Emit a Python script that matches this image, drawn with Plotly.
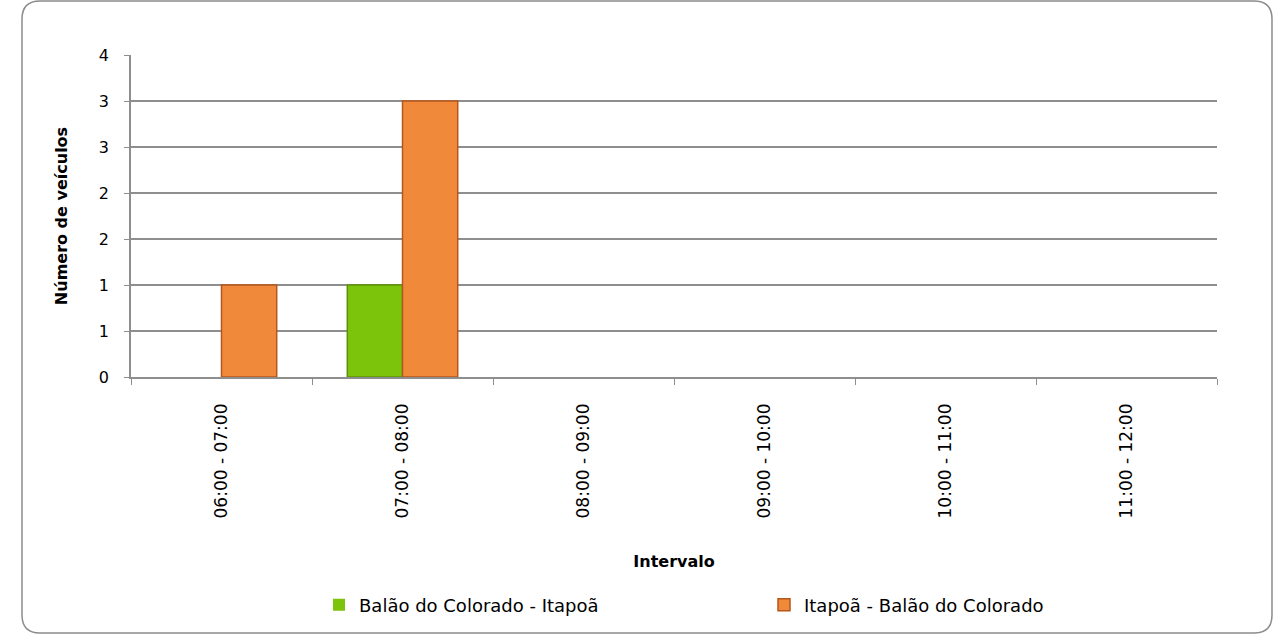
import plotly.graph_objects as go

categories = ["06:00 - 07:00", "07:00 - 08:00", "08:00 - 09:00",
              "09:00 - 10:00", "10:00 - 11:00", "11:00 - 12:00"]
balao_itapoa = [0, 1, 0, 0, 0, 0]
itapoa_balao = [1, 3, 0, 0, 0, 0]
y_tickvals = [0, 0.5, 1, 1.5, 2, 2.5, 3, 3.5]
y_ticktext = ["0", "1", "1", "2", "2", "3", "3", "4"]

W, H = 1275, 636
L, R, T, B = 131, 1217, 55, 377
FONT = "'DejaVu Sans', Lato, sans-serif"
GRID = "#8E8E8E"

fig = go.Figure()
fig.add_trace(go.Bar(
    x=categories, y=balao_itapoa, name="Balão do Colorado - Itapoã",
    marker=dict(color="#7CC30C",
                line=dict(color="#5C9403", width=[0 if v == 0 else 1.5 for v in balao_itapoa])),
))
fig.add_trace(go.Bar(
    x=categories, y=itapoa_balao, name="Itapoã - Balão do Colorado",
    marker=dict(color="#F08A3A",
                line=dict(color="#B5561C", width=[0 if v == 0 else 1.5 for v in itapoa_balao])),
))

def px2paper(px, py):
    return (px - L) / (R - L), (B - py) / (B - T)

def P(px, py):
    a, b = px2paper(px, py)
    return f"{a:.5f},{b:.5f}"

x0, y0, x1, y1, rad = 22, 1, 1272, 633, 18
path = (f"M {P(x0+rad, y0)} L {P(x1-rad, y0)} Q {P(x1, y0)} {P(x1, y0+rad)} "
        f"L {P(x1, y1-rad)} Q {P(x1, y1)} {P(x1-rad, y1)} "
        f"L {P(x0+rad, y1)} Q {P(x0, y1)} {P(x0, y1-rad)} "
        f"L {P(x0, y0+rad)} Q {P(x0, y0)} {P(x0+rad, y0)} Z")
fig.add_shape(type="path", path=path, xref="paper", yref="paper",
              line=dict(color="#8C8C8C", width=1.5), layer="below")

fig.update_layout(
    width=W, height=H,
    margin=dict(l=L, r=W - R, t=T, b=H - B),
    paper_bgcolor="white", plot_bgcolor="white",
    font=dict(family=FONT, size=15, color="#000000"),
    barmode="group", bargap=0.39, bargroupgap=0,
    showlegend=True,
    legend=dict(orientation="h", x=(319 - L) / (R - L), xanchor="left",
                y=(B - 605) / (B - T), yanchor="middle",
                font=dict(size=18), entrywidth=400, itemwidth=30,
                traceorder="normal"),
    xaxis=dict(
        type="category", tickangle=-90, tickson="boundaries",
        ticks="outside", ticklen=6, tickcolor=GRID,
        showline=True, linecolor=GRID, linewidth=1.5,
        showgrid=False, tickfont=dict(size=17),
        ticklabelstandoff=18,
        title=dict(text="<b>Intervalo</b>", font=dict(size=16), standoff=38),
    ),
    yaxis=dict(
        range=[0, 3.5], tickvals=y_tickvals, ticktext=y_ticktext,
        ticks="outside", ticklen=5, tickcolor=GRID,
        showline=True, linecolor=GRID, linewidth=1.5,
        showgrid=True, gridcolor=GRID, gridwidth=1.5,
        zeroline=False, tickfont=dict(size=16),
        ticklabelstandoff=12,
        title=dict(text="<b>Número de veículos</b>", font=dict(size=16), standoff=27),
    ),
)

fig.write_html("out.html", config={"displayModeBar": False},
               post_script="document.body.style.margin='0';")
